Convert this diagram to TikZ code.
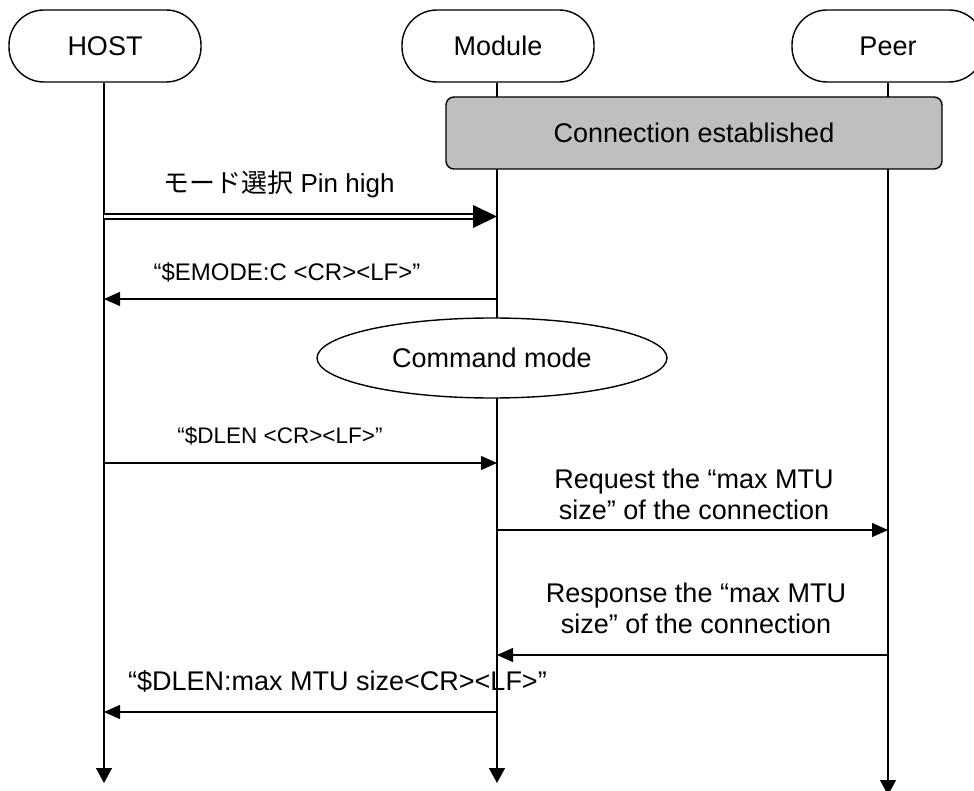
\documentclass[tikz,border=0pt]{standalone}
\usepackage{fontspec}
\setmainfont{Liberation Sans}
\newfontfamily\jpfont{Noto Sans CJK JP}
\usetikzlibrary{arrows.meta,shapes.geometric}
\tikzset{
  x=1pt, y=-1pt,
  actor/.style={draw, line width=1.4pt, rounded corners=35pt, minimum width=192pt,
    minimum height=72pt, inner sep=0pt, fill=white, font=\fontsize{27}{31}\selectfont},
  lifeline/.style={line width=1.3pt, -{Triangle[length=15pt,width=16pt]}},
  msg/.style={line width=1.2pt, -{Triangle[length=16pt,width=14pt]}},
  lbl/.style={inner sep=0pt, align=center, font=\fontsize{27}{31}\selectfont},
  slbl/.style={inner sep=0pt, align=center, font=\fontsize{24}{28}\selectfont},
  statebox/.style={draw, line width=1.4pt, rounded corners=8pt, fill=black!25,
    minimum width=496pt, minimum height=72pt, inner sep=0pt, font=\fontsize{27}{31}\selectfont},
  modeell/.style={draw, ellipse, line width=1.4pt, fill=white, minimum width=350pt,
    minimum height=80pt, inner sep=0pt, font=\fontsize{27}{31}\selectfont},
}
\begin{document}
\begin{tikzpicture}
\useasboundingbox (0,0) rectangle (974,791);

% lifeline ends
\coordinate (hostEnd) at (104,783);
\coordinate (modEnd) at (497,783);
\coordinate (peerEnd) at (888,795);

% actors
\node[actor] (host) at (105,46) {HOST};
\node[actor] (module) at (498,46) {Module};
\node[actor] (peer) at (888,46) {Peer};

% lifelines
\draw[lifeline] (host.south -| hostEnd) -- (hostEnd);
\draw[lifeline] (module.south -| modEnd) -- (modEnd);
\draw[lifeline] (peer.south -| peerEnd) -- (peerEnd);

% connection state
\node[statebox] (conn) at (694,133) {Connection established};

% mode pin (double line)
\coordinate (pinH) at (104,216.5);
\coordinate (pinM) at (497,216.5);
\draw[line width=2.2pt, double distance=3pt, shorten >=20pt] (pinH) -- (pinM);
\fill (pinM) -- ++(-24,-11.5) -- ++(0,23) -- cycle;
\node[lbl, font=\fontsize{26}{30}\selectfont] (pinlbl) at (279,184) {{\jpfont モード選択} Pin high};

% EMODE response
\coordinate (emM) at (497,299);
\coordinate (emH) at (104,299);
\draw[msg] (emM) -- (emH);
\node[slbl] (emlbl) at (287,272) {“\$EMODE:C <CR><LF>”};

% command mode
\node[modeell] (cmd) at (492,358) {Command mode};

% DLEN request
\coordinate (dlH) at (104,463);
\coordinate (dlM) at (497,463);
\draw[msg] (dlH) -- (dlM);
\node[slbl, font=\fontsize{22.5}{26}\selectfont] (dllbl) at (280,436) {“\$DLEN <CR><LF>”};

% MTU request to peer
\coordinate (rqM) at (497,530);
\coordinate (rqP) at (888,530);
\draw[msg] (rqM) -- (rqP);
\node[lbl] (rqlbl) at (694,494) {Request the “max MTU\\size” of the connection};

% MTU response from peer
\coordinate (rsP) at (888,655);
\coordinate (rsM) at (497,655);
\draw[msg] (rsP) -- (rsM);
\node[lbl] (rslbl) at (696,608) {Response the “max MTU\\size” of the connection};

% DLEN result to host
\coordinate (rtM) at (497,712);
\coordinate (rtH) at (104,712);
\draw[msg] (rtM) -- (rtH);
\node[lbl, anchor=west] (rtlbl) at (128,681) {“\$DLEN:max MTU size<CR><LF>”};
\end{tikzpicture}
\end{document}
